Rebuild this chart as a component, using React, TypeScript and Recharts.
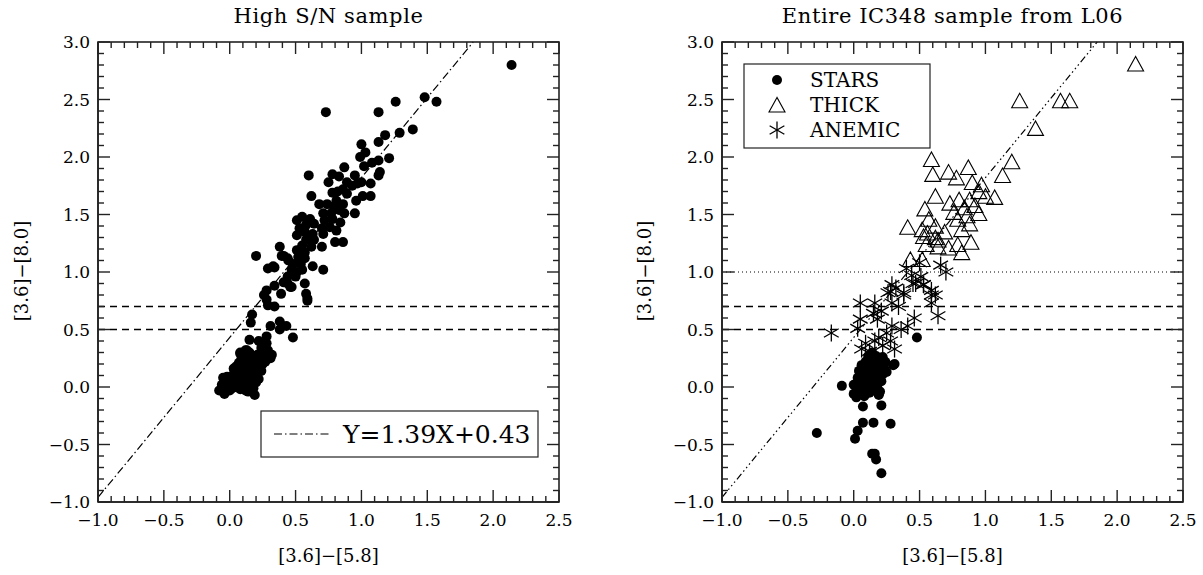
import React from 'react';
import { ScatterChart, Scatter, XAxis, YAxis, ReferenceLine } from 'recharts';

// ---------- data ----------
const highSNPoints: [number, number][] = [
  [2.14, 2.8], [0.73, 2.39], [1.13, 2.39], [1.26, 2.48], [1.48, 2.52], [1.57, 2.48], [1.39, 2.24], [1.29, 2.21],
  [1.18, 2.19], [1.0, 2.11], [1.13, 2.13], [1.03, 2.04], [0.99, 2.0], [1.21, 1.99], [1.13, 1.97], [1.08, 1.95],
  [1.02, 1.92], [1.14, 1.87], [1.13, 1.84], [0.6, 1.84], [0.87, 1.91], [0.78, 1.85], [0.83, 1.83], [0.75, 1.78],
  [0.95, 1.84], [0.89, 1.78], [0.97, 1.77], [1.07, 1.77], [1.0, 1.78], [0.93, 1.75], [0.86, 1.72], [0.82, 1.7],
  [0.78, 1.69], [0.62, 1.66], [1.01, 1.66], [1.07, 1.66], [0.89, 1.68], [0.96, 1.62], [0.68, 1.59], [0.74, 1.59],
  [0.81, 1.62], [0.86, 1.59], [0.79, 1.57], [0.83, 1.54], [0.87, 1.51], [0.95, 1.51], [0.77, 1.51], [0.71, 1.51],
  [0.55, 1.48], [0.61, 1.46], [0.51, 1.45], [0.72, 1.45], [0.78, 1.46], [0.84, 1.43], [0.64, 1.42], [0.58, 1.41],
  [0.53, 1.38], [0.7, 1.38], [0.76, 1.39], [0.81, 1.36], [0.57, 1.35], [0.63, 1.33], [0.51, 1.32], [0.71, 1.33],
  [0.58, 1.28], [0.64, 1.28], [0.8, 1.26], [0.86, 1.26], [0.55, 1.23], [0.38, 1.22], [0.62, 1.22], [0.7, 1.22],
  [0.51, 1.19], [0.57, 1.17], [0.2, 1.14], [0.41, 1.14], [0.44, 1.12], [0.52, 1.13], [0.57, 1.12], [0.48, 1.07],
  [0.54, 1.07], [0.29, 1.03], [0.34, 1.04], [0.47, 1.02], [0.63, 1.05], [0.71, 1.02], [0.51, 1.0], [0.55, 1.02],
  [0.44, 0.96], [0.5, 0.96], [0.41, 0.91], [0.57, 0.9], [0.34, 0.88], [0.47, 0.87], [0.44, 0.9], [0.28, 0.84],
  [0.39, 0.81], [0.58, 0.81], [0.26, 0.8], [0.59, 0.77],
  [0.395, 1.14], [0.445, 1.1], [0.33, 1.05], [0.43, 0.92], [0.46, 0.87], [0.59, 0.75], [0.28, 0.76], [0.29, 0.71],
  [0.34, 0.7], [0.17, 0.63], [0.16, 0.56], [0.38, 0.57], [0.31, 0.53], [0.43, 0.53], [0.38, 0.5], [0.28, 0.44],
  [0.48, 0.43], [0.15, 0.41], [0.22, 0.4], [0.28, 0.38], [0.24, 0.34], [0.29, 0.32], [0.32, 0.28], [0.12, 0.32],
  [0.08, 0.29], [0.31, 0.25],
  [-0.08, -0.03], [-0.06, 0.02], [-0.05, 0.08], [-0.04, -0.06], [-0.03, 0.04], [-0.02, 0.09], [-0.01, 0.0],
  [0.0, 0.06], [0.0, -0.03], [0.01, 0.03], [0.02, 0.1], [0.02, -0.01], [0.03, 0.06], [0.04, 0.14], [0.04, 0.0],
  [0.05, 0.08], [0.05, 0.18], [0.06, 0.11], [0.06, 0.03], [0.07, 0.21], [0.07, 0.15], [0.08, 0.06], [0.08, -0.02],
  [0.09, 0.12], [0.09, 0.25], [0.1, 0.18], [0.1, 0.04], [0.11, 0.28], [0.11, 0.09], [0.12, 0.15], [0.12, 0.21],
  [0.12, -0.03], [0.13, 0.32], [0.13, 0.02], [0.14, 0.1], [0.14, 0.24], [0.15, 0.17], [0.15, 0.3], [0.16, 0.06],
  [0.16, 0.12], [0.17, 0.26], [0.17, 0.2], [0.18, -0.01], [0.18, 0.09], [0.19, 0.15], [0.19, -0.07], [0.2, 0.22],
  [0.2, 0.04], [0.21, 0.28], [0.21, 0.11], [0.22, 0.18], [0.22, 0.07], [0.23, 0.24], [0.24, 0.14], [0.25, 0.2],
  [0.26, 0.28], [0.27, 0.22], [0.28, 0.31], [0.29, 0.25], [0.14, -0.04], [0.16, -0.02], [0.1, -0.01], [0.03, 0.16],
  [0.08, 0.3],
];

const starsPoints: [number, number][] = [
  [0.48, 0.43], [-0.09, 0.01], [-0.28, -0.4], [0.01, -0.45], [0.03, -0.38], [0.07, -0.31], [0.15, -0.31],
  [0.28, -0.32], [0.07, -0.17], [0.21, -0.16], [0.14, -0.58], [0.16, -0.58], [0.17, -0.63], [0.21, -0.75],
  [0.0, -0.06], [0.02, -0.09], [0.19, -0.06], [0.31, 0.2], [0.3, 0.19],
  [0.0, 0.02], [0.02, -0.04], [0.03, 0.08], [0.04, 0.14], [0.05, 0.03], [0.06, 0.19], [0.07, 0.1], [0.07, -0.02],
  [0.08, 0.05], [0.09, 0.22], [0.09, 0.15], [0.1, 0.0], [0.1, 0.08], [0.11, 0.27], [0.11, 0.12], [0.12, 0.18],
  [0.12, -0.05], [0.13, 0.04], [0.13, 0.24], [0.14, 0.1], [0.14, 0.3], [0.15, 0.16], [0.15, -0.03], [0.16, 0.06],
  [0.16, 0.21], [0.17, 0.12], [0.17, 0.27], [0.18, 0.02], [0.18, 0.18], [0.19, 0.08], [0.19, 0.24], [0.2, 0.14],
  [0.2, -0.04], [0.21, 0.2], [0.21, 0.05], [0.22, 0.26], [0.22, 0.11], [0.23, 0.17], [0.24, 0.22], [0.25, 0.13],
  [0.05, -0.06], [0.08, -0.08], [0.19, -0.07], [0.03, 0.0], [0.06, 0.12],
];

const thickPoints: [number, number][] = [
  [2.14, 2.8], [1.26, 2.48], [1.57, 2.48], [1.64, 2.48], [1.38, 2.24], [1.2, 1.95], [1.13, 1.83], [0.59, 1.97],
  [0.6, 1.84], [0.72, 1.86], [0.78, 1.81], [0.87, 1.9], [0.9, 1.77], [0.97, 1.75], [1.0, 1.65], [1.07, 1.64],
  [0.95, 1.69], [0.62, 1.65], [0.54, 1.54], [0.57, 1.45], [0.73, 1.59], [0.8, 1.62], [0.88, 1.62], [0.84, 1.55],
  [0.92, 1.57], [0.95, 1.5], [0.76, 1.51], [0.41, 1.38], [0.52, 1.36], [0.62, 1.39], [0.69, 1.34], [0.53, 1.3],
  [0.62, 1.29], [0.88, 1.41], [0.82, 1.36], [0.89, 1.25], [0.79, 1.23], [0.82, 1.16], [0.55, 1.23], [0.64, 1.21],
  [0.72, 1.2], [0.43, 1.1], [0.52, 1.1], [0.64, 1.27], [0.56, 1.33], [0.86, 1.48], [0.79, 1.45],
];

const anemicPoints: [number, number][] = [
  [0.4, 1.03], [0.5, 1.08], [0.66, 1.06], [0.7, 1.0], [0.44, 0.97], [0.51, 0.96], [0.45, 0.9], [0.53, 0.89],
  [0.29, 0.89], [0.28, 0.83], [0.38, 0.82], [0.59, 0.84], [0.62, 0.8],
  [-0.17, 0.47], [0.05, 0.73], [0.05, 0.59], [0.03, 0.51], [0.16, 0.73], [0.15, 0.64], [0.21, 0.66], [0.18, 0.59],
  [0.26, 0.82], [0.32, 0.86], [0.29, 0.73], [0.38, 0.8], [0.34, 0.7], [0.47, 0.9], [0.53, 0.89], [0.59, 0.8],
  [0.59, 0.73], [0.64, 0.62], [0.46, 0.6], [0.41, 0.53], [0.36, 0.5], [0.29, 0.53], [0.25, 0.47], [0.28, 0.4],
  [0.31, 0.33], [0.09, 0.38], [0.16, 0.4], [0.22, 0.36], [0.12, 0.31], [0.06, 0.33], [0.19, 0.43],
];

const FIT_SLOPE = 1.39;
const FIT_INTERCEPT = 0.43;
const CUT_LINES_DASHED = [0.5, 0.7];
const CUT_LINE_DOTTED = 1.0;

const X_DOMAIN: [number, number] = [-1, 2.5];
const Y_DOMAIN: [number, number] = [-1, 3];
const X_MAJOR = [-1.0, -0.5, 0.0, 0.5, 1.0, 1.5, 2.0, 2.5];
const Y_MAJOR = [-1.0, -0.5, 0.0, 0.5, 1.0, 1.5, 2.0, 2.5, 3.0];
const X_TICKS = Array.from({ length: 36 }, (_, i) => Math.round((-1 + i * 0.1) * 10) / 10);
const Y_TICKS = Array.from({ length: 41 }, (_, i) => Math.round((-1 + i * 0.1) * 10) / 10);

const TITLES = ['High S/N sample', 'Entire IC348 sample from L06'];
const X_LABEL = '[3.6]\u2212[5.8]';
const Y_LABEL = '[3.6]\u2212[8.0]';
const FIT_LABEL = 'Y=1.39X+0.43';
const LEGEND_LABELS = ['STARS', 'THICK', 'ANEMIC'];

// ---------- layout ----------
const FONT = "'DejaVu Serif', serif";
const INK = '#000';
const FRAME = '#222';
const MAJOR_LEN = 12;
const MINOR_LEN = 6;
const CHART_H = 575;
const PLOT_TOP = 42;
const PLOT_H = 460;
const PLOT_W = 461;
const Y_AXIS_W = 60;
const X_AXIS_H = 40;
const PANELS = [
  { offset: 0, width: 600, plotLeft: 98 },
  { offset: 600, width: 603, plotLeft: 722 },
];

const toXY = (pts: [number, number][]) => pts.map(([x, y]) => ({ x, y }));
const isMajor = (v: number) => Math.abs(v * 2 - Math.round(v * 2)) < 1e-6;
const fmt = (v: number) => {
  if (Math.abs(v) < 1e-9) return '0.0';
  const s = Math.abs(v).toFixed(1);
  return v < 0 ? '\u2212' + s : s;
};

const BottomTick = (props: any) => {
  const { x, y, payload } = props;
  return (
    <text x={x} y={y + 24} textAnchor="middle" fontFamily={FONT} fontSize={17} fill={INK}>
      {fmt(payload.value)}
    </text>
  );
};
const LeftTick = (props: any) => {
  const { x, y, payload } = props;
  return (
    <text x={x - 8} y={y + 6} textAnchor="end" fontFamily={FONT} fontSize={17} fill={INK}>
      {fmt(payload.value)}
    </text>
  );
};

const Dot = (p: any) => <circle cx={p.cx} cy={p.cy} r={5} fill={INK} />;
const Tri = (p: any) => (
  <polygon
    points={`${p.cx},${p.cy - 8.5} ${p.cx - 8},${p.cy + 6} ${p.cx + 8},${p.cy + 6}`}
    fill="none"
    stroke={INK}
    strokeWidth={1.1}
  />
);
const Ast = (p: any) => {
  const r = 8.5;
  const d = r * 0.866;
  return (
    <g stroke={INK} strokeWidth={1.3}>
      <line x1={p.cx} y1={p.cy - r} x2={p.cx} y2={p.cy + r} />
      <line x1={p.cx - d} y1={p.cy - r / 2} x2={p.cx + d} y2={p.cy + r / 2} />
      <line x1={p.cx - d} y1={p.cy + r / 2} x2={p.cx + d} y2={p.cy - r / 2} />
    </g>
  );
};

const fitSegment = [
  { x: -1, y: FIT_SLOPE * -1 + FIT_INTERCEPT },
  { x: (Y_DOMAIN[1] - FIT_INTERCEPT) / FIT_SLOPE, y: Y_DOMAIN[1] },
];

// frame tick marks (axis decoration), from the same linear mapping as the plot area
function FrameTicks({ plotLeft }: { plotLeft: number }) {
  const sx = (v: number) => plotLeft + ((v - X_DOMAIN[0]) / (X_DOMAIN[1] - X_DOMAIN[0])) * PLOT_W;
  const sy = (v: number) => PLOT_TOP + PLOT_H - ((v - Y_DOMAIN[0]) / (Y_DOMAIN[1] - Y_DOMAIN[0])) * PLOT_H;
  const bottom = PLOT_TOP + PLOT_H;
  const right = plotLeft + PLOT_W;
  const st = { stroke: FRAME, strokeWidth: 1.4 };
  return (
    <g>
      {X_TICKS.map((v) => {
        const len = isMajor(v) ? MAJOR_LEN : MINOR_LEN;
        const x = sx(v);
        return (
          <g key={`x${v}`}>
            <line x1={x} y1={bottom} x2={x} y2={bottom - len} {...st} />
            <line x1={x} y1={PLOT_TOP} x2={x} y2={PLOT_TOP + len} {...st} />
          </g>
        );
      })}
      {Y_TICKS.map((v) => {
        const len = isMajor(v) ? MAJOR_LEN : MINOR_LEN;
        const y = sy(v);
        return (
          <g key={`y${v}`}>
            <line x1={plotLeft} y1={y} x2={plotLeft + len} y2={y} {...st} />
            <line x1={right} y1={y} x2={right - len} y2={y} {...st} />
          </g>
        );
      })}
      <rect x={plotLeft} y={PLOT_TOP} width={PLOT_W} height={PLOT_H} fill="none" stroke={FRAME} strokeWidth={1.6} />
    </g>
  );
}

function Panel(props: { width: number; plotLeft: number; offset: number; right: boolean }) {
  const { width, plotLeft, offset, right } = props;
  const localLeft = plotLeft - offset;
  const axisLine = { stroke: FRAME, strokeWidth: 1.6 };
  return (
    <ScatterChart
      width={width}
      height={CHART_H}
      margin={{
        top: PLOT_TOP,
        right: width - localLeft - PLOT_W,
        bottom: CHART_H - PLOT_TOP - PLOT_H - X_AXIS_H,
        left: localLeft - Y_AXIS_W,
      }}
    >
      <XAxis
        type="number"
        dataKey="x"
        domain={X_DOMAIN}
        ticks={X_MAJOR}
        interval={0}
        height={X_AXIS_H}
        tickSize={0}
        tickMargin={0}
        tickLine={false}
        axisLine={axisLine}
        tick={BottomTick}
      />
      <YAxis
        type="number"
        dataKey="y"
        domain={Y_DOMAIN}
        ticks={Y_MAJOR}
        interval={0}
        width={Y_AXIS_W}
        tickSize={0}
        tickMargin={0}
        tickLine={false}
        axisLine={axisLine}
        tick={LeftTick}
      />
      {CUT_LINES_DASHED.map((v) => (
        <ReferenceLine key={v} y={v} stroke={INK} strokeWidth={1.3} strokeDasharray="7 5" />
      ))}
      {right && <ReferenceLine y={CUT_LINE_DOTTED} stroke={INK} strokeWidth={1} strokeDasharray="1 3" />}
      <ReferenceLine
        segment={fitSegment}
        stroke={INK}
        strokeWidth={1.2}
        strokeDasharray={right ? '7 3 1.5 3 1.5 3 1.5 3' : '8 3 1.5 3'}
      />
      {!right && <Scatter data={toXY(highSNPoints)} shape={Dot} isAnimationActive={false} />}
      {right && <Scatter data={toXY(starsPoints)} shape={Dot} isAnimationActive={false} />}
      {right && <Scatter data={toXY(thickPoints)} shape={Tri} isAnimationActive={false} />}
      {right && <Scatter data={toXY(anemicPoints)} shape={Ast} isAnimationActive={false} />}
    </ScatterChart>
  );
}

export default function App() {
  const txt = { fontFamily: FONT, fill: INK } as const;
  return (
    <div style={{ position: 'absolute', left: 0, top: 0, width: 1203, height: 575, background: '#fff' }}>
      {PANELS.map((p, i) => (
        <div key={i} style={{ position: 'absolute', left: p.offset, top: 0 }}>
          <Panel width={p.width} plotLeft={p.plotLeft} offset={p.offset} right={i === 1} />
        </div>
      ))}
      <svg width={1203} height={575} style={{ position: 'absolute', left: 0, top: 0, pointerEvents: 'none' }}>
        {PANELS.map((p, i) => (
          <FrameTicks key={i} plotLeft={p.plotLeft} />
        ))}
        <text x={328.5} y={23} textAnchor="middle" fontSize={21} letterSpacing={0.6} {...txt}>
          {TITLES[0]}
        </text>
        <text x={952.5} y={23} textAnchor="middle" fontSize={21} letterSpacing={0.6} {...txt}>
          {TITLES[1]}
        </text>
        <text x={328.5} y={562} textAnchor="middle" fontSize={18} {...txt}>
          {X_LABEL}
        </text>
        <text x={952.5} y={562} textAnchor="middle" fontSize={18} {...txt}>
          {X_LABEL}
        </text>
        <text transform="translate(22,271) rotate(-90)" textAnchor="middle" dy="0.35em" fontSize={18} {...txt}>
          {Y_LABEL}
        </text>
        <text transform="translate(645,271) rotate(-90)" textAnchor="middle" dy="0.35em" fontSize={18} {...txt}>
          {Y_LABEL}
        </text>

        {/* left legend */}
        <rect x={261} y={411} width={277} height={46} fill="#fff" stroke={FRAME} strokeWidth={1.2} />
        <line x1={274} y1={434} x2={330} y2={434} stroke={INK} strokeWidth={1.2} strokeDasharray="8 3 1.5 3" />
        <text x={343} y={443} fontSize={25} {...txt}>
          {FIT_LABEL}
        </text>

        {/* right legend */}
        <rect x={744} y={64} width={186} height={84} fill="#fff" stroke={FRAME} strokeWidth={1.2} />
        <Dot cx={777} cy={80} />
        <Tri cx={777} cy={106} />
        <Ast cx={777} cy={130} />
        <text x={810} y={87} fontSize={20} {...txt}>
          {LEGEND_LABELS[0]}
        </text>
        <text x={810} y={112} fontSize={20} {...txt}>
          {LEGEND_LABELS[1]}
        </text>
        <text x={810} y={137} fontSize={20} {...txt}>
          {LEGEND_LABELS[2]}
        </text>
      </svg>
    </div>
  );
}
